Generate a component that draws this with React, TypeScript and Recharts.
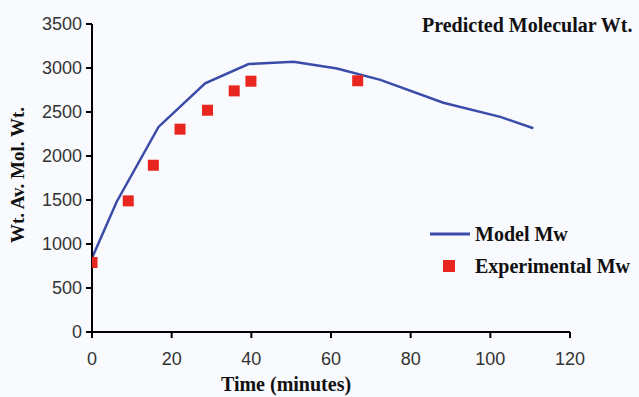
import React from "react";
import { ComposedChart, Line, Scatter, XAxis, YAxis, Legend, Label } from "recharts";

// values, in the axis units that the picture shows
const modelTime = [0, 6.2, 16.7, 28.4, 39.3, 50.6, 61.5, 72.4, 88.2, 102.5, 110.8];
const modelMw = [840, 1480, 2330, 2825, 3045, 3070, 2995, 2865, 2605, 2445, 2315];
const expTime = [0, 9.1, 15.4, 22.1, 29, 35.7, 39.9, 66.7];
const expMw = [790, 1490, 1895, 2305, 2520, 2740, 2850, 2855];
const xTicks = [0, 20, 40, 60, 80, 100, 120];
const yTicks = [0, 500, 1000, 1500, 2000, 2500, 3000, 3500];

const modelData = modelTime.map((t, i) => ({ t, mw: modelMw[i] }));
const expData = expTime.map((t, i) => ({ t, mw: expMw[i] }));

const BLUE = "#3a4ba8";
const RED = "#e8261f";
const serif = "'Liberation Serif', 'Times New Roman', serif";
const sans = "'Liberation Sans', Arial, sans-serif";

const Square = (props: any) => {
  const { cx, cy } = props;
  if (cx == null || cy == null) return null;
  return <rect x={cx - 5.5} y={cy - 5.5} width={11} height={11} fill={RED} />;
};

const renderLegend = () => (
  <div style={{ fontFamily: serif, fontWeight: "bold", fontSize: 20, color: "#111", lineHeight: "32px" }}>
    <div style={{ display: "flex", alignItems: "center" }}>
      <svg width={45} height={10}>
        <line x1={0} y1={5} x2={40} y2={5} stroke={BLUE} strokeWidth={3} />
      </svg>
      <span>Model Mw</span>
    </div>
    <div style={{ display: "flex", alignItems: "center" }}>
      <svg width={45} height={12}>
        <rect x={13} y={0} width={12} height={12} fill={RED} />
      </svg>
      <span>Experimental Mw</span>
    </div>
  </div>
);

export default function App() {
  return (
    <div style={{ position: "absolute", left: 0, top: 0, width: 639, height: 397, background: "#f9fafe", overflow: "hidden" }}>
      <div style={{ position: "absolute", left: 422, top: 14, fontFamily: serif, fontWeight: "bold", fontSize: 20, color: "#111", whiteSpace: "nowrap" }}>
        Predicted Molecular Wt.
      </div>
      <ComposedChart width={639} height={397} margin={{ top: 24, right: 69, left: 0, bottom: 0 }}>
        <XAxis
          dataKey="t"
          type="number"
          domain={[0, 120]}
          ticks={xTicks}
          allowDataOverflow
          height={65}
          stroke="#000"
          strokeWidth={2}
          tickSize={6}
          tickMargin={14}
          tick={{ fill: "#333", fontSize: 18, fontFamily: sans }}
        >
          <Label value="Time (minutes)" position="insideBottom" offset={6} dx={-45} style={{ fontFamily: serif, fontWeight: "bold", fontSize: 20, fill: "#111" }} />
        </XAxis>
        <YAxis
          dataKey="mw"
          type="number"
          domain={[0, 3500]}
          ticks={yTicks}
          width={92}
          stroke="#000"
          strokeWidth={2}
          tickSize={6}
          tickMargin={4}
          tick={{ fill: "#333", fontSize: 18, fontFamily: sans }}
        >
          <Label value="Wt. Av. Mol. Wt." angle={-90} position="insideLeft" offset={17} dy={-3} style={{ textAnchor: "middle", fontFamily: serif, fontWeight: "bold", fontSize: 19, fill: "#111" }} />
        </YAxis>
        <Legend content={renderLegend} layout="vertical" verticalAlign="middle" align="center" wrapperStyle={{ left: 430, top: 218, width: 220 }} />
        <Line data={modelData} dataKey="mw" name="Model Mw" type="linear" stroke={BLUE} strokeWidth={2.5} dot={false} isAnimationActive={false} />
        <Scatter data={expData} dataKey="mw" name="Experimental Mw" fill={RED} shape={Square} isAnimationActive={false} />
      </ComposedChart>
    </div>
  );
}
